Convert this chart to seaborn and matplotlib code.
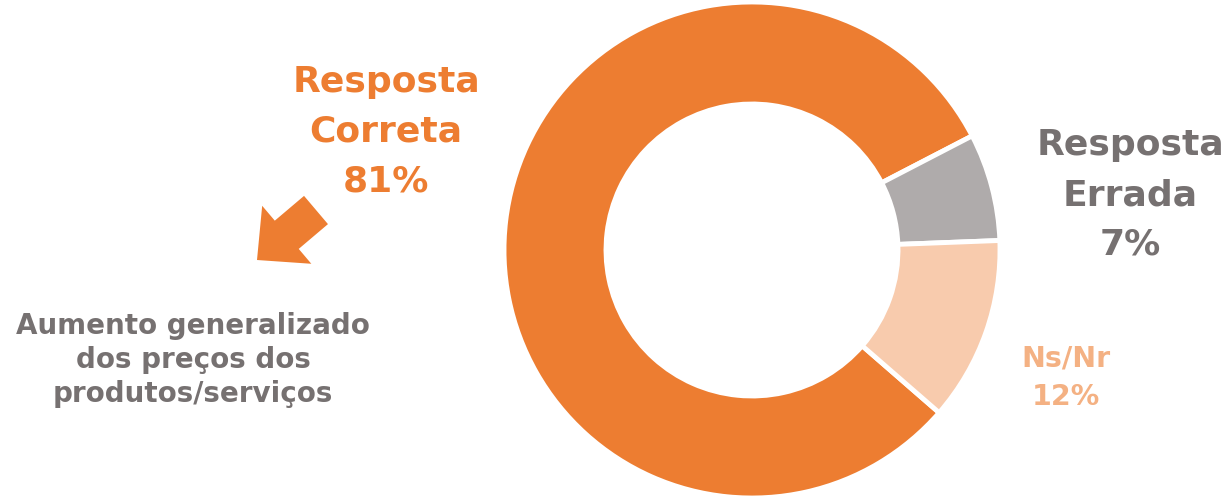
import matplotlib
matplotlib.use("Agg")
import matplotlib.pyplot as plt
import seaborn as sns
from matplotlib.patches import FancyArrow

# Data
labels = ["Resposta\nCorreta", "Resposta\nErrada", "Ns/Nr"]
values = [81, 7, 12]
colors = ["#ED7D31", "#AFABAB", "#F8CBAD"]
text_colors = ["#ED7D31", "#767171", "#F4B183"]
note = "Aumento generalizado\ndos preços dos\nprodutos/serviços"

sns.set_theme(style="white")
plt.rcParams['font.family'] = ['DejaVu Sans']

W, H = 1227, 502
fig = plt.figure(figsize=(W / 100, H / 100), dpi=100)
ax = fig.add_axes([0, 0, 1, 1])

# donut, clockwise, gray slice starting near 27 degrees
start = 27.4 + values[0] * 3.6
ax.pie(values, colors=colors, startangle=start, counterclock=False,
       center=(752, 251), radius=248, frame=True,
       wedgeprops=dict(width=102, edgecolor="white", linewidth=3.5))
ax.set_xlim(0, W)
ax.set_ylim(0, H)
ax.axis("off")

# labels
ax.text(386, H - 132, f"{labels[0]}\n{values[0]}%", color=text_colors[0],
        fontsize=26, fontweight="bold", ha="center", va="center", linespacing=1.58)
ax.text(1130, H - 195, f"{labels[1]}\n{values[1]}%", color=text_colors[1],
        fontsize=26, fontweight="bold", ha="center", va="center", linespacing=1.58)
ax.text(1066, H - 378, f"{labels[2]}\n{values[2]}%", color=text_colors[2],
        fontsize=20.5, fontweight="bold", ha="center", va="center", linespacing=1.5)

ax.text(193, H - 360, note, color="#767171", fontsize=20, fontweight="bold",
        ha="center", va="center", linespacing=1.28)

# arrow
ax.add_patch(FancyArrow(316, H - 211, -59, -50, width=37, head_width=76,
                        head_length=39, length_includes_head=True,
                        color="#ED7D31", linewidth=0))

fig.savefig("out.png", dpi=100)
